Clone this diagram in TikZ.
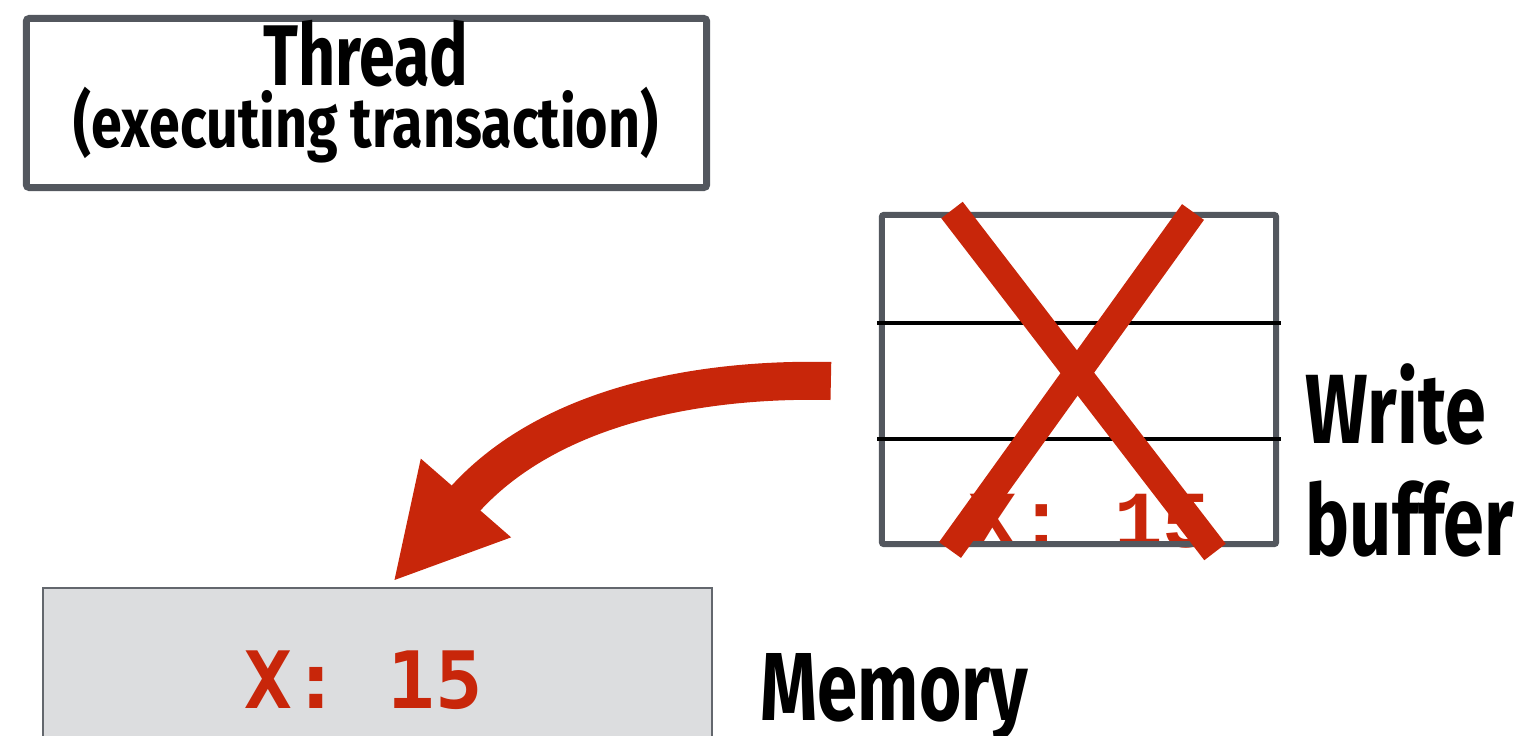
\documentclass[tikz,border=0pt]{standalone}
\usepackage{fontspec}
\setmainfont{Fira Sans}
\newfontfamily\labfont[FakeStretch=0.75]{Fira Sans}
\newfontfamily\subfont[FakeStretch=0.79]{Fira Sans}
\newfontfamily\monoA{DejaVu Sans Mono}
\newfontfamily\monoB{Liberation Mono}
\usetikzlibrary{arrows.meta,calc}
\definecolor{xred}{RGB}{200,38,10}
\definecolor{bgray}{RGB}{83,87,94}
\definecolor{mgray}{RGB}{99,103,109}
\definecolor{mfill}{RGB}{220,221,223}
\tikzset{
  boxstyle/.style={draw=bgray, line width=0.07cm, rounded corners=0.03cm, rectangle, inner sep=0pt},
  memstyle/.style={draw=mgray, fill=mfill, line width=0.025cm, rectangle, inner sep=0pt},
  lbl/.style={font=\labfont\bfseries, inner sep=0pt},
  valtxt/.style={text=xred, inner sep=0pt, anchor=base},
  crossline/.style={draw=xred, line width=0.27cm},
  bigarrow/.style={draw=xred, line width=0.38cm, -{Triangle[length=1.11cm,width=1.11cm]}},
  rowline/.style={draw=black, line width=0.04cm}
}
\begin{document}
\begin{tikzpicture}[x=0.01cm,y=-0.01cm]
\useasboundingbox (0,0) rectangle (1523,736);
% Thread box
\node[boxstyle, minimum width=6.80cm, minimum height=1.69cm] (thr) at (366.5,103) {};
\node[lbl, anchor=base] (thrA) at (366,85) {\fontsize{24.5}{28}\selectfont Thread};
\node[inner sep=0pt, anchor=base, font=\subfont\bfseries] (thrB) at (366,147) {\fontsize{20}{22}\selectfont (executing transaction)};
% Write buffer
\node[valtxt, font=\monoB\bfseries\fontsize{23}{26}\selectfont] (bval) at (1090,547) {X: 15};
\node[boxstyle, line width=0.06cm, rounded corners=0.02cm, minimum width=3.94cm, minimum height=3.29cm] (buf) at (1079,379.5) {};
\coordinate (r1w) at (877,323); \coordinate (r1e) at (1281,323);
\coordinate (r2w) at (877,439); \coordinate (r2e) at (1281,439);
\draw[rowline] (r1w) -- (r1e);
\draw[rowline] (r2w) -- (r2e);
% Red cross
\coordinate (c1a) at (952,210); \coordinate (c1b) at (1215,552);
\coordinate (c2a) at (1193,212); \coordinate (c2b) at (950,550);
\draw[crossline] (c1a) -- (c1b);
\draw[crossline] (c2a) -- (c2b);
% Labels
\node[lbl, anchor=base west] (wlab) at (1305,443) {\fontsize{28}{32}\selectfont Write};
\node[lbl, anchor=base west] (blab) at (1305,555) {\fontsize{28}{32}\selectfont buffer};
% Memory
\node[memstyle, minimum width=6.69cm, minimum height=1.72cm] (mem) at (377.5,674) {};
\node[valtxt, font=\monoA\bfseries\fontsize{22.5}{26}\selectfont] (mval) at (364,708) {X: 15};
\node[lbl, anchor=base west] (mlab) at (760,720) {\fontsize{27.5}{30}\selectfont Memory};
% Arrow
\coordinate (as) at ($(buf.west)+(-48,1.5)$);
\coordinate (at) at ($(mem.north)+(15.5,-5)$);
\draw[bigarrow] (as) .. controls (700,378) and (547,405) .. (at);
\end{tikzpicture}
\end{document}
